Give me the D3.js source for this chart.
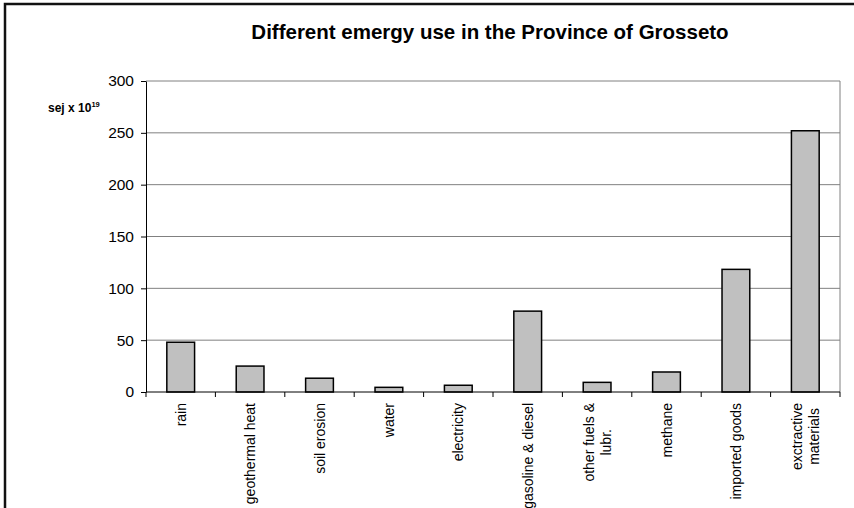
<!DOCTYPE html>
<html>
<head>
<meta charset="utf-8">
<script src="https://cdn.jsdelivr.net/npm/d3@7"></script>
<style>
  html, body { margin: 0; padding: 0; background: #fff; }
  svg { display: block; font-family: Arial, "Liberation Sans", sans-serif; }
</style>
</head>
<body>
<svg id="chart" width="854" height="508"></svg>
<script>
// Emergy flows (sej x 10^19) by source
const categories = [
  "rain", "geothermal heat", "soil erosion", "water", "electricity",
  "gasoline & diesel", "other fuels &\nlubr.", "methane", "imported goods",
  "exctractive\nmaterials"
];
const values = [48, 25, 13.3, 4.5, 6.5, 78, 9.3, 19.3, 118.3, 252];
const yTicks = [0, 50, 100, 150, 200, 250, 300];
const titleText = "Different emergy use in the Province of Grosseto";

const svg = d3.select("#chart");
const plot = { left: 146, right: 840, top: 81, bottom: 392 };

// outer chart frame (continues past the bottom/right edge)
svg.append("rect")
  .attr("x", 5).attr("y", 4)
  .attr("width", 1000).attr("height", 1000)
  .attr("fill", "none").attr("stroke", "#111").attr("stroke-width", 2.5);

const x = d3.scaleBand()
  .domain(categories)
  .range([plot.left, plot.right])
  .paddingInner(0.6)
  .paddingOuter(0.3);

const y = d3.scaleLinear()
  .domain([0, 300])
  .range([plot.bottom, plot.top]);

// horizontal gridlines
svg.append("g")
  .selectAll("line")
  .data(yTicks.filter(t => t > 0))
  .join("line")
  .attr("x1", plot.left).attr("x2", plot.right)
  .attr("y1", d => y(d)).attr("y2", d => y(d))
  .attr("stroke", "#808080").attr("stroke-width", 1);

// right edge of the plot area
svg.append("line")
  .attr("x1", plot.right).attr("x2", plot.right)
  .attr("y1", plot.top).attr("y2", plot.bottom)
  .attr("stroke", "#808080").attr("stroke-width", 1);

// bars
svg.append("g")
  .selectAll("rect")
  .data(categories.map((c, i) => ({ c, v: values[i] })))
  .join("rect")
  .attr("x", d => x(d.c))
  .attr("width", x.bandwidth())
  .attr("y", d => y(d.v))
  .attr("height", d => y(0) - y(d.v))
  .attr("fill", "#c0c0c0")
  .attr("stroke", "#000")
  .attr("stroke-width", 1.5);

// y axis
const yAxis = svg.append("g")
  .attr("transform", `translate(${plot.left},0)`)
  .call(d3.axisLeft(y).tickValues(yTicks).tickSize(5).tickPadding(7).tickSizeOuter(0));
yAxis.select(".domain").attr("stroke", "#000");
yAxis.selectAll(".tick line").attr("stroke", "#000");
yAxis.selectAll(".tick text")
  .attr("font-size", 15.5)
  .attr("font-family", "Arial, 'Liberation Sans', sans-serif")
  .attr("fill", "#000");

// x axis line with ticks at category boundaries
const step = x.step();
const boundaries = d3.range(categories.length + 1).map(i => plot.left + i * step);
svg.append("line")
  .attr("x1", plot.left).attr("x2", plot.right)
  .attr("y1", y(0)).attr("y2", y(0))
  .attr("stroke", "#000");
svg.append("g")
  .selectAll("line")
  .data(boundaries)
  .join("line")
  .attr("x1", d => d).attr("x2", d => d)
  .attr("y1", y(0)).attr("y2", y(0) + 5)
  .attr("stroke", "#000");

// rotated category labels, multi-line ones centred on their longest line
const labelTop = 403;
const lineGap = 17;
categories.forEach(c => {
  const lines = c.split("\n");
  const cx = x(c) + x.bandwidth() / 2;
  const g = svg.append("g");
  const texts = lines.map(ln =>
    g.append("text")
      .attr("font-size", 14)
      .attr("fill", "#000")
      .text(ln)
  );
  const maxLen = d3.max(texts, t => t.node().getComputedTextLength());
  texts.forEach((t, i) => {
    const off = (i - (lines.length - 1) / 2) * lineGap;
    const lx = cx + off + 5;
    const ly = labelTop + maxLen / 2;
    t.attr("text-anchor", "middle")
      .attr("transform", `translate(${lx},${ly}) rotate(-90)`);
  });
});

// title
svg.append("text")
  .attr("x", 490).attr("y", 39)
  .attr("text-anchor", "middle")
  .attr("font-size", 20.5)
  .attr("font-weight", "bold")
  .attr("fill", "#000")
  .text(titleText);

// y axis unit label
const unit = svg.append("text")
  .attr("x", 48).attr("y", 112)
  .attr("font-size", 12)
  .attr("font-weight", "bold")
  .attr("fill", "#000");
unit.append("tspan").text("sej x 10");
unit.append("tspan").attr("font-size", 7.5).attr("dy", -5.5).text("19");
</script>
</body>
</html>
